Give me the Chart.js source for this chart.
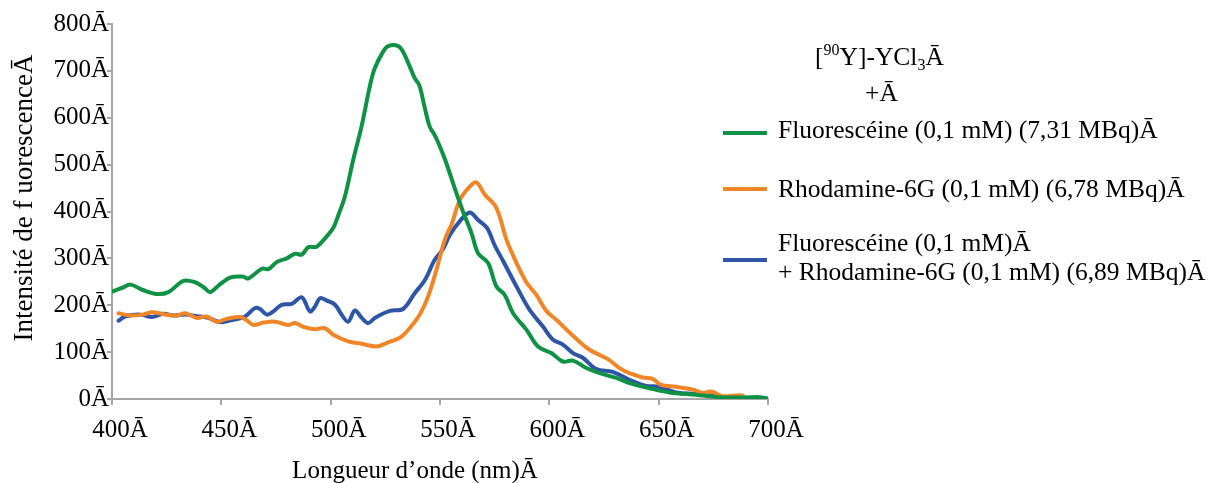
<!DOCTYPE html>
<html>
<head>
<meta charset="utf-8">
<script src="https://cdn.jsdelivr.net/npm/chart.js@4/dist/chart.umd.min.js"></script>
<style>
html,body{margin:0;padding:0;background:#fff;}
canvas{display:block;}
</style>
</head>
<body>
<canvas id="c" width="1211" height="483"></canvas>
<script>
// ---- Data ----
const xTicks = [400, 450, 500, 550, 600, 650, 700];
const yTicks = [0, 100, 200, 300, 400, 500, 600, 700, 800];

const fluoWl = [400, 404.6, 408.4, 414.4, 420.5, 425.8, 432.7, 438, 441.8, 444.9, 448.7, 454, 460.1, 462.4, 468.5, 471.5, 475.3, 479.9, 483.7, 486.8, 489.8, 493.6, 498.2, 501.2, 503.5, 506.5, 510.3, 514.1, 517.9, 520.2, 524, 526.3, 530.9, 533.1, 536.2, 538.5, 540.5, 543.1, 545.3, 547.6, 549.9, 552.9, 557.5, 560.5, 564.4, 567.4, 572, 575.8, 579.6, 583.4, 589.5, 594.8, 600.9, 606.2, 610.8, 616.9, 623, 630.6, 636.7, 645.8, 654.9, 667.1, 677.8, 688.4, 696, 700];
const fluoVal = [229, 237, 244, 232, 224, 228, 252, 249, 239, 228, 242, 259, 261, 257, 278, 277, 292, 300, 310, 308, 324, 325, 347, 365, 392, 432, 510, 581, 667, 706, 741, 753, 753, 741, 709, 684, 670, 620, 581, 563, 539, 503, 439, 400, 354, 311, 290, 240, 222, 183, 148, 112, 98, 80, 82, 66, 55, 45, 34, 23, 14, 9, 4, 3, 4, 1];

const rhodWl = [403, 408.4, 414, 418.3, 423.6, 429.7, 433.5, 438.8, 443.4, 447.9, 452.5, 458.6, 461.6, 464.7, 469.2, 474.6, 480.6, 483.7, 487.5, 492.8, 497.4, 501.2, 508, 514.2, 521, 526.3, 532.4, 538.5, 541, 544.6, 548.4, 552.2, 555.5, 559, 563.6, 566.7, 570.5, 575, 577.3, 580.4, 585, 589.5, 594.1, 598.6, 603.2, 610.8, 618.4, 626.8, 632.1, 636.7, 642.7, 647.3, 651.1, 658, 665.6, 670.1, 674, 679.3, 687.7, 690, 696];
const rhodVal = [183, 178, 180, 185, 181, 178, 183, 173, 176, 165, 171, 175, 168, 158, 163, 165, 158, 162, 154, 149, 151, 137, 123, 118, 112, 121, 133, 165, 182, 219, 276, 340, 375, 424, 453, 462, 436, 414, 389, 340, 290, 249, 222, 188, 169, 135, 105, 85, 66, 55, 46, 43, 30, 26, 20, 13, 16, 6, 8, 2, 1];

const mixWl = [403, 406, 412.9, 418.3, 423.6, 428.1, 433.5, 440.3, 444.1, 449.5, 455.5, 460.9, 465.4, 467.7, 470.8, 473.8, 477.6, 482.2, 486.8, 490.5, 492.8, 495.1, 498.2, 502, 505, 508, 511.1, 514.2, 517.2, 520.2, 527.1, 533.1, 538.5, 543.1, 547.6, 551.4, 554.5, 559, 563.6, 567.4, 571.5, 575, 578.8, 585, 591, 597, 601.6, 606.2, 610.8, 615.3, 621.5, 629, 636.7, 644.3, 650.4, 658, 667.1, 674.7, 682.3, 691.4, 696];
const mixVal = [167, 176, 180, 175, 182, 178, 180, 176, 173, 164, 169, 176, 194, 192, 180, 187, 201, 203, 217, 187, 197, 215, 210, 201, 180, 165, 189, 173, 162, 173, 188, 192, 226, 254, 297, 320, 350, 379, 398, 382, 365, 328, 295, 240, 190, 155, 127, 116, 98, 88, 64, 58, 41, 28, 26, 14, 11, 7, 1, 2, 0];

const seriesLabels = [
  ["Fluorescéine (0,1 mM) (7,31 MBq)Ā"],
  ["Rhodamine-6G (0,1 mM) (6,78 MBq)Ā"],
  ["Fluorescéine (0,1 mM)Ā", "+ Rhodamine-6G (0,1 mM) (6,89 MBq)Ā"]
];
const seriesColors = ["#0f9146", "#f08628", "#2e55a6"];

const xTitle = "Longueur d\u2019onde (nm)Ā" + "\u00A0".repeat(8);
const yTitle = "\u00A0".repeat(4) + "Intensité de f uorescenceĀ";

// ---- Build ----
function pts(xs, ys) { return xs.map((x, i) => ({x: x, y: ys[i]})); }
const FONT = "'Liberation Serif', 'Times New Roman', serif";
const AXIS = "#a6a6a6";

const legendPlugin = {
  id: 'customLegend',
  afterDraw(chart) {
    const ctx = chart.ctx;
    ctx.save();
    ctx.fillStyle = '#000';
    ctx.textBaseline = 'alphabetic';
    ctx.textAlign = 'left';
    const F = "25.5px " + FONT, S = "16px " + FONT;
    // title: [90Y]-YCl3Ā
    let x = 815, y = 65;
    ctx.font = F;
    ctx.fillText("[", x, y); x += ctx.measureText("[").width;
    ctx.font = S;
    ctx.fillText("90", x, y - 10); x += ctx.measureText("90").width;
    ctx.font = F;
    ctx.fillText("Y]-YCl", x, y); x += ctx.measureText("Y]-YCl").width;
    ctx.font = S;
    ctx.fillText("3", x, y + 5); x += ctx.measureText("3").width;
    ctx.font = F;
    ctx.fillText("Ā", x, y);
    ctx.fillText("+Ā", 865, 101);

    const lineYs = [133, 189, 260];
    const textYs = [[138], [196.5], [250.5, 280]];
    chart.data.datasets.forEach((ds, i) => {
      ctx.strokeStyle = ds.borderColor;
      ctx.lineWidth = 4;
      ctx.beginPath();
      ctx.moveTo(723, lineYs[i]);
      ctx.lineTo(767, lineYs[i]);
      ctx.stroke();
      ctx.font = F;
      seriesLabels[i].forEach((t, j) => ctx.fillText(t, 778, textYs[i][j]));
    });
    ctx.restore();
  }
};

new Chart(document.getElementById('c'), {
  type: 'line',
  data: {
    datasets: [
      {label: seriesLabels[0].join(' '), data: pts(fluoWl, fluoVal), borderColor: seriesColors[0]},
      {label: seriesLabels[1].join(' '), data: pts(rhodWl, rhodVal), borderColor: seriesColors[1]},
      {label: seriesLabels[2].join(' '), data: pts(mixWl, mixVal), borderColor: seriesColors[2]}
    ].map(d => Object.assign(d, {borderWidth: 4, pointRadius: 0, tension: 0.35, fill: false, borderCapStyle: 'round', borderJoinStyle: 'round'}))
  },
  options: {
    responsive: false,
    animation: false,
    devicePixelRatio: 1,
    layout: {padding: {left: 0, right: 443, top: 24, bottom: 0}},
    plugins: {legend: {display: false}, tooltip: {enabled: false}},
    scales: {
      x: {
        type: 'linear', min: 400, max: 700,
        afterBuildTicks: s => { s.ticks = xTicks.map(v => ({value: v})); },
        afterFit: s => { s.height = 84; },
        ticks: {callback: v => v + 'Ā', color: '#000', font: {family: FONT, size: 25}, padding: 10, labelOffset: 8, maxRotation: 0, autoSkip: false},
        grid: {drawOnChartArea: false, drawTicks: true, tickLength: 6, color: AXIS, lineWidth: 2},
        border: {color: AXIS, width: 2},
        title: {display: true, text: xTitle, color: '#000', font: {family: FONT, size: 25}, padding: {top: 0, bottom: -3}}
      },
      y: {
        min: 0, max: 800,
        afterBuildTicks: s => { s.ticks = yTicks.map(v => ({value: v})); },
        afterFit: s => { s.width = 112; },
        ticks: {callback: v => v + 'Ā', color: '#000', font: {family: FONT, size: 25}, padding: -2, autoSkip: false},
        grid: {drawOnChartArea: false, drawTicks: true, tickLength: 5, color: AXIS, lineWidth: 2},
        border: {color: AXIS, width: 2},
        title: {display: true, text: yTitle, color: '#000', font: {family: FONT, size: 27}, padding: {top: 9, bottom: 0}}
      }
    }
  },
  plugins: [legendPlugin]
});
</script>
</body>
</html>
